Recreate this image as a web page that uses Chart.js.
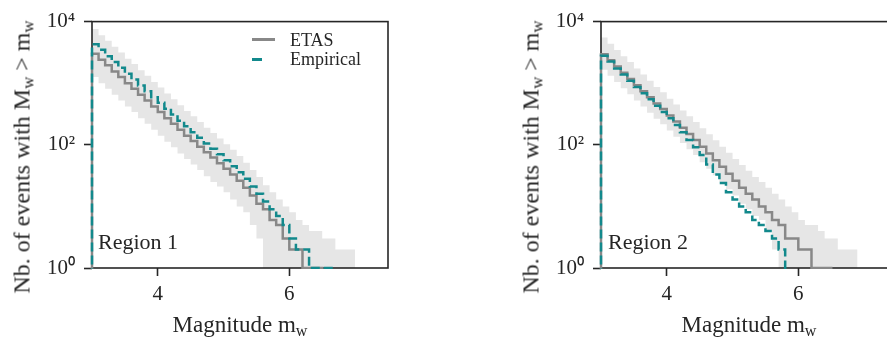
<!DOCTYPE html>
<html>
<head>
<meta charset="utf-8">
<script src="https://cdn.jsdelivr.net/npm/chart.js@4.4.1/dist/chart.umd.min.js"></script>
<style>
html, body { margin: 0; padding: 0; background: #fff; overflow: hidden; }
body { width: 887px; height: 347px; position: relative; font-family: "Liberation Serif", serif; color: #262626; }
canvas { position: absolute; top: 0; }
#c1 { left: 0; }
#c2 { left: 509px; }
.txt { position: absolute; white-space: nowrap; }
.xl { top: 313px; font-size: 23px; line-height: 23px; transform: translateX(-50%); }
.yl { top: 157px; font-size: 24px; line-height: 24px; transform: translate(-50%, -50%) rotate(-90deg); }
.reg { top: 231px; font-size: 22px; line-height: 22px; }
.leg { font-size: 18px; line-height: 18px; }
.sub { font-size: 0.7em; position: relative; top: 0.25em; }
.hd { position: absolute; height: 3px; }
</style>
</head>
<body>
<canvas id="c1" width="400" height="347"></canvas>
<canvas id="c2" width="400" height="347"></canvas>

<div class="txt yl" style="left:23px">Nb. of events with M<span class="sub">w</span> &gt; m<span class="sub">w</span></div>
<div class="txt yl" style="left:532px">Nb. of events with M<span class="sub">w</span> &gt; m<span class="sub">w</span></div>
<div class="txt xl" style="left:240px">Magnitude m<span class="sub">w</span></div>
<div class="txt xl" style="left:749px">Magnitude m<span class="sub">w</span></div>
<div class="txt reg" style="left:98px">Region 1</div>
<div class="txt reg" style="left:608px">Region 2</div>

<div class="hd" style="left:252px;top:38px;width:23px;background:#888888"></div>
<div class="hd" style="left:252px;top:58px;width:10px;background:#12898c"></div>
<div class="txt leg" style="left:290px;top:31px">ETAS</div>
<div class="txt leg" style="left:290px;top:50px">Empirical</div>

<script>
// magnitude bin edges (lower edge of each step)
const binEdges = [3.0, 3.1, 3.2, 3.3, 3.4, 3.5, 3.6, 3.7, 3.8, 3.9,
                  4.0, 4.1, 4.2, 4.3, 4.4, 4.5, 4.6, 4.7, 4.8, 4.9,
                  5.0, 5.1, 5.2, 5.3, 5.4, 5.5, 5.6, 5.7, 5.8, 5.9,
                  6.0, 6.1, 6.2, 6.3, 6.4, 6.5, 6.6, 6.7, 6.8, 6.9, 7.0];

// Region 1
const etas1 = [3000, 2400, 1950, 1550, 1260, 1000, 810, 650, 525, 420,
               340, 270, 220, 175, 140, 115, 93, 76, 62, 50,
               41, 33, 26, 20, 15, 11, 9, 6, 5, 3,
               2, 2, 1, 1, 1];
const emp1 = [4300, 3500, 2750, 2200, 1780, 1420, 1150, 920, 740, 590,
              480, 385, 310, 245, 200, 160, 130, 105, 86, 70,
              56, 45, 36, 28, 21, 16, 12, 9, 7, 5,
              3, 2, 2, 1, 1, 1, 1];
const hi1 = [7600, 6000, 4900, 3900, 3150, 2500, 2050, 1620, 1320, 1050,
             850, 680, 550, 440, 355, 290, 235, 190, 155, 126,
             102, 83, 66, 51, 39, 30, 22, 17, 13, 10,
             8, 6, 5, 4, 4, 3, 3, 2, 2, 2];
const lo1 = [1260, 1000, 810, 650, 525, 420, 340, 270, 220, 175,
             140, 112, 91, 72, 59, 48, 39, 31, 25, 21,
             17, 13, 10, 8, 5, 3, 1, 1, 1, 1,
             1, 1, 1, 1, 1, 1, 1, 1, 1, 1];

// Region 2
const etas2 = [2950, 2350, 1860, 1480, 1175, 930, 740, 590, 470, 380,
               300, 240, 190, 150, 120, 93, 72, 56, 44, 34,
               26, 20, 16, 13, 10, 8, 6, 5, 3, 3,
               2, 2, 1, 1, 1];
const emp2 = [2800, 2240, 1740, 1380, 1100, 870, 690, 550, 430, 340,
              270, 210, 160, 120, 91, 68, 48, 33, 24, 17,
              13, 10, 8, 6, 5, 4, 3, 2];
const hi2 = [5500, 4350, 3450, 2750, 2200, 1740, 1380, 1100, 870, 710,
             560, 450, 360, 290, 235, 185, 148, 118, 93, 74,
             59, 47, 38, 30, 25, 20, 16, 13, 10, 8,
             6, 5, 5, 4, 3, 3, 2, 2, 2];
const lo2 = [1660, 1320, 1050, 830, 660, 525, 420, 330, 265, 215,
             170, 135, 107, 85, 68, 52, 41, 32, 25, 19,
             15, 11, 9, 7, 6, 4, 2, 1, 1, 1,
             1, 1, 1, 1, 1, 1, 1, 1, 1];

const xTicks = [4, 6];
const yTicks = [1, 100, 10000];
const yTickLabels = ['10\u2070', '10\u00b2', '10\u2074'];

const FLOOR = 0.1; // below the axis, used for the drops to zero
const ink = '#262626';

// cumulative count as a step line: rises at the first edge, drops after the last bin
function steps(counts) {
	const pts = [{x: binEdges[0], y: FLOOR}];
	counts.forEach((c, i) => pts.push({x: binEdges[i], y: c}));
	pts.push({x: binEdges[counts.length], y: FLOOR});
	return pts;
}
// band edge: holds the last value up to the closing edge
function bandEdge(counts) {
	const pts = counts.map((c, i) => ({x: binEdges[i], y: c}));
	pts.push({x: binEdges[counts.length], y: counts[counts.length - 1]});
	return pts;
}

const frame = {
	id: 'frame',
	beforeDatasetsDraw(chart) {
		const {ctx, chartArea: a} = chart;
		ctx.save();
		ctx.strokeStyle = ink;
		ctx.lineWidth = 1.6;
		ctx.strokeRect(a.left, a.top, a.right - a.left, a.bottom - a.top);
		ctx.restore();
	}
};

function newChart(canvasId, etas, emp, hi, lo) {
	const lineBase = {pointRadius: 0, stepped: 'before', tension: 0, clip: {left: 3, top: 0, right: 0, bottom: 1}};
	return new Chart(document.getElementById(canvasId).getContext('2d'), {
		type: 'line',
		data: {
			datasets: [
				{...lineBase, label: 'Empirical', data: steps(emp), borderColor: '#12898c', borderWidth: 2.5, borderDash: [9, 4], fill: false, order: 0},
				{...lineBase, label: 'ETAS', data: steps(etas), borderColor: '#888888', borderWidth: 2.5, fill: false, order: 1},
				{...lineBase, label: 'upper', data: bandEdge(hi), borderColor: 'rgba(0,0,0,0)', borderWidth: 0, backgroundColor: '#e6e6e6', fill: '+1', order: 2},
				{...lineBase, label: 'lower', data: bandEdge(lo), borderColor: 'rgba(0,0,0,0)', borderWidth: 0, fill: false, order: 3},
			],
		},
		options: {
			responsive: false,
			animation: false,
			layout: {padding: {top: 13, right: 12, left: 0, bottom: 0}},
			plugins: {
				legend: {display: false},
				tooltip: {enabled: false},
				filler: {drawTime: 'beforeDatasetsDraw'},
			},
			scales: {
				x: {
					type: 'linear',
					min: 3,
					max: 7.5,
					afterBuildTicks: s => { s.ticks = xTicks.map(v => ({value: v})); },
					afterFit: s => { s.height = 79; },
					border: {display: false},
					grid: {drawOnChartArea: false, tickLength: 8, tickWidth: 1.6, tickColor: ink},
					ticks: {font: {family: 'Liberation Serif', size: 21}, color: ink, padding: 6, maxRotation: 0,
						callback: v => String(v)},
				},
				y: {
					type: 'logarithmic',
					min: 1,
					max: 10000,
					afterBuildTicks: s => { s.ticks = yTicks.map(v => ({value: v})); },
					afterFit: s => { s.width = 92; },
					border: {display: false},
					grid: {drawOnChartArea: false, tickLength: 8, tickWidth: 1.6, tickColor: ink},
					ticks: {font: {family: 'Liberation Serif', size: 21}, color: ink, padding: 9,
						callback: v => yTickLabels[yTicks.indexOf(v)]},
				},
			},
		},
		plugins: [frame],
	});
}

newChart('c1', etas1, emp1, hi1, lo1);
newChart('c2', etas2, emp2, hi2, lo2);
</script>
</body>
</html>
